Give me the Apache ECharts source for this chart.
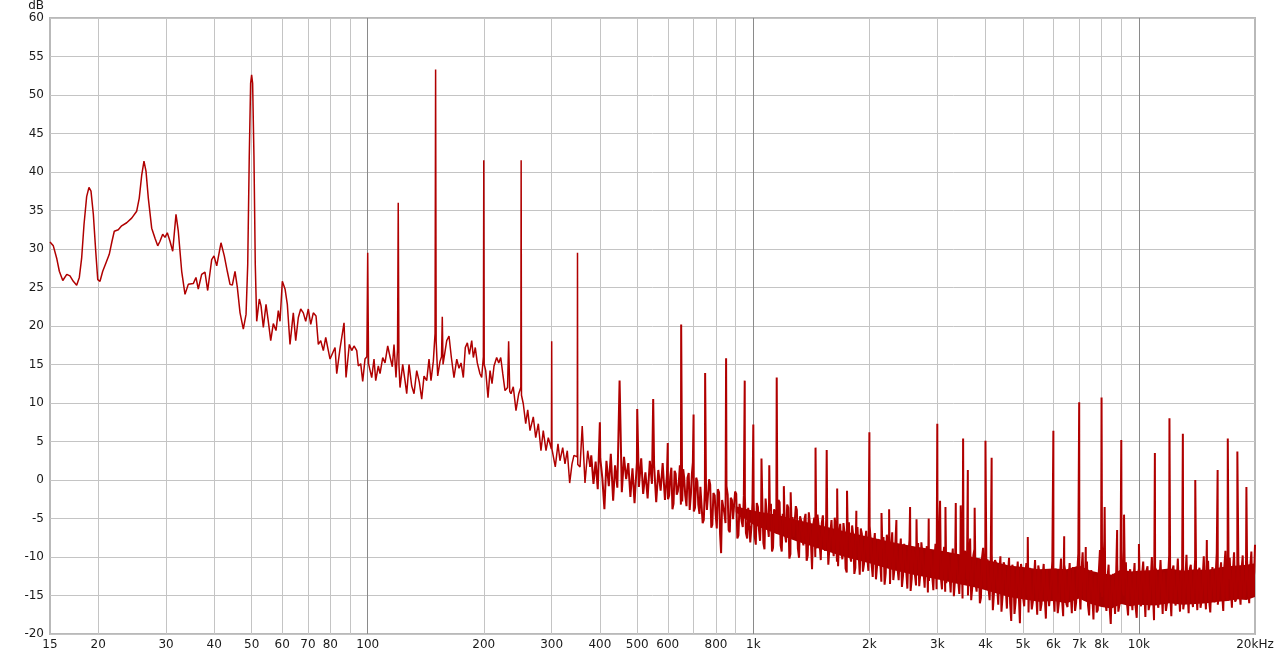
<!DOCTYPE html>
<html>
<head>
<meta charset="utf-8">
<script src="https://cdn.jsdelivr.net/npm/echarts@6/dist/echarts.min.js"></script>
<style>
html,body{margin:0;padding:0;background:#fff;}
#chart{width:1280px;height:657px;}
</style>
</head>
<body>
<div id="chart"></div>
<script>
// Spectrum below ~380 Hz: [frequency Hz, level dB]
const lowBand = [
[15.0,30.9],[15.3,30.4],[15.61,28.8],[15.86,27.1],[16.19,25.9],[16.58,26.7],[16.9,26.5],[17.24,25.8],[17.59,25.3],[17.87,26.3],[18.12,28.8],[18.38,33.2],[18.67,36.8],[18.93,38.0],[19.16,37.5],[19.43,34.5],[19.71,29.7],[19.95,26.0],[20.22,25.8],[20.55,27.1],[20.96,28.2],[21.37,29.3],[21.72,31.0],[22.02,32.3],[22.55,32.5],[23.01,33.0],[23.71,33.4],[24.43,34.0],[25.17,34.9],[25.56,36.6],[25.94,39.6],[26.29,41.4],[26.61,40.1],[26.98,36.6],[27.53,32.7],[28.08,31.4],[28.54,30.4],[28.93,31.0],[29.4,31.9],[29.81,31.5],[30.22,32.1],[30.71,31.0],[31.21,29.7],[31.83,34.5],[32.27,32.3],[32.93,27.1],[33.59,24.1],[34.25,25.4],[35.29,25.5],[35.86,26.3],[36.36,24.8],[37.1,26.7],[37.84,27.0],[38.46,24.6],[39.39,28.6],[39.94,29.1],[40.59,27.8],[41.64,30.8],[42.47,29.1],[43.24,27.1],[43.95,25.4],[44.56,25.3],[45.28,27.1],[45.91,25.0],[46.66,21.7],[47.58,19.6],[48.36,21.5],[48.85,28],[49.3,42],[49.7,51.5],[50.0,52.6],[50.3,51.5],[50.7,42],[51.1,28],[51.54,20.6],[52.35,23.5],[52.89,22.6],[53.62,19.8],[54.49,22.8],[55.24,20.6],[56.04,18.1],[56.91,20.3],[57.84,19.4],[58.64,22.0],[59.24,20.6],[60.06,25.8],[61.04,24.8],[61.88,22.8],[62.88,17.6],[64.13,21.7],[65.06,18.1],[66.08,21.1],[67.03,22.2],[68.08,21.7],[69.06,20.6],[70.14,22.2],[71.16,20.2],[72.27,21.7],[73.45,21.3],[74.46,17.6],[75.54,18.1],[76.72,16.8],[77.83,18.5],[79.05,16.8],[79.86,15.7],[82.28,17.2],[83.12,13.8],[84.77,17.1],[86.82,20.4],[87.86,13.3],[89.61,17.6],[90.9,16.8],[92.16,17.4],[93.66,16.8],[94.55,14.8],[95.91,15.1],[97.06,12.8],[98.4,15.7],[99.5,16],[100,29.5],[100.5,15.1],[102.42,13.3],[103.84,15.7],[104.9,12.9],[106.54,14.8],[107.63,13.8],[109.38,15.9],[110.89,15.2],[112.69,17.4],[114.25,16],[115.83,14.7],[117.01,17.6],[118.41,13.3],[119.5,17],[120,36],[120.5,15],[121.28,12],[123.25,15],[124.96,12.9],[126.23,11.2],[127.98,15],[130.06,12.2],[131.86,11.2],[134,14.2],[136.1,12.7],[138.06,10.5],[139.97,13.5],[142.24,12.9],[144.21,15.7],[145.94,12.9],[147.96,15.4],[149.5,19],[150,53.3],[150.5,18],[151.9,13.5],[154,15.4],[155.4,16],[156.1,21.2],[156.8,15],[158,14.8],[160.3,18.1],[162.5,18.7],[164.8,15.9],[167.4,13.3],[170.2,15.7],[172.5,14.5],[174.6,15.2],[177,13.3],[179.1,17.2],[181.3,17.8],[183.5,16.3],[186.1,18.1],[187.9,15.9],[190.1,17.2],[192.4,15.2],[195.5,13.8],[197.5,13.3],[199.5,16],[200,41.5],[200.5,15],[202.3,14.2],[205.1,10.7],[207.6,14.2],[210.1,12.5],[212.6,14.8],[216,15.9],[218.7,15.2],[221.3,15.9],[224,13.8],[227,11.6],[230.5,12],[232,18],[233.5,11.5],[235.3,11.2],[238.5,12.1],[242.4,9],[246.4,11.2],[249.5,12],[250,41.5],[250.5,11],[253.2,9.9],[256.9,7.3],[260,9.1],[263.6,6.4],[268.8,8.2],[272.7,5.5],[277,7.3],[281.4,3.8],[285.3,6.4],[290,3.8],[294,5.5],[299.5,4],[300,18],[300.5,4],[302.9,3.8],[306.5,1.7],[311.5,4.7],[315.2,2.5],[320.4,4.2],[324.8,2.1],[329.3,3.8],[334,-0.4],[338.7,2.1],[342.7,3.2],[349.5,3],[350,29.5],[350.5,2],[355.3,1.7],[360,7],[366,-0.4],[372,3.8],[377.1,1.7]
];

// Noise floor above ~380 Hz, outer peaks/troughs: [frequency Hz, level dB]
const noise = [
[380,3.2],[385,-0.5],[390,2.4],[395,-1.2],[401,2.8],[406,0.2],[411,-3.8],[416,2.5],[422,-0.8],[427,3.4],[433,-2.7],[438,1.9],[444,-1.0],[456,-1.6],[462,3.0],[468,0.1],[474,2.2],[480,-2.2],[486,1.5],[492,-3.0],[499,2.3],[505,-0.9],[512,2.8],[518,-1.8],[525,1.0],[532,-2.4],[539,2.5],[546,-0.5],[553,1.9],[560,-2.9],[567,1.3],[575,-1.4],[582,2.2],[590,-2.6],[597,0.6],[605,-2.0],[613,1.6],[621,-3.1],[629,0.8],[637,-1.5],[645,1.9],[654,-2.8],[662,0.2],[671,-3.4],[680,0.9],[689,-1.8],[697,2.3],[706,-3.6],[716,-0.2],[725,-4.4],[734,-0.8],[744,-5.2],[754,-1.4],[763,-4.0],[773,-0.6],[783,-5.8],[794,-2.0],[804,-6.3],[815,-1.6],[825,-9.5],[836,-2.4],[847,-5.6],[858,-1.9],[869,-6.8],[880,-2.6],[892,-5.0],[903,-1.8],[915,-7.2],[927,-3.0],[939,-6.1],[951,-2.2],[964,-7.6],[976,-3.4],[989,-6.0],[1002,-2.8],
[1015,-8.4],[1028,-3.5],[1041,-7.9],[1055,-2.6],[1069,-9.0],[1083,-4.2],[1097,-7.4],[1111,-3.1],[1125,-8.8],[1140,-4.6],[1155,-7.0],[1170,-2.9],[1185,-9.3],[1200,-5.0],[1216,-8.1],[1232,-3.6],[1248,-9.6],[1264,-4.8],[1281,-7.6],[1297,-3.9],[1314,-10.1],[1331,-5.3],[1349,-8.5],[1366,-4.4],[1384,-9.8],[1402,-5.6],[1420,-11.6],[1439,-4.9],[1457,-8.9],[1476,-5.8],[1496,-10.4],[1515,-4.6],[1535,-9.2],[1555,-6.0],[1575,-10.8],[1595,-5.2],[1616,-9.9],[1637,-6.4],[1659,-11.2],[1680,-5.7],[1702,-10.3],[1724,-6.8],[1747,-12.0],[1770,-5.5],[1793,-10.6],[1816,-7.2],[1839,-11.4],[1863,-6.1],[1888,-12.3],[1912,-7.0],[1937,-10.9],[1962,-6.6],[1988,-11.8],
[2014,-7.5],[2040,-12.6],[2066,-6.9],[2093,-11.3],[2121,-8.0],[2148,-13.2],[2176,-7.4],[2205,-12.1],[2233,-8.5],[2262,-13.5],[2292,-6.8],[2322,-11.7],[2352,-8.9],[2382,-13.0],[2413,-7.6],[2445,-12.4],[2477,-9.1],[2509,-14.1],[2541,-7.8],[2575,-12.8],[2608,-9.4],[2642,-13.7],[2676,-8.2],[2711,-12.2],[2746,-9.7],[2782,-14.0],[2818,-8.6],[2855,-13.1],[2892,-9.9],[2930,-14.3],[2968,-8.3],[3006,-12.9],
[3046,-9.2],[3085,-14.2],[3125,-8.7],[3166,-13.4],[3207,-10.1],[3249,-14.6],[3291,-8.9],[3334,-13.0],[3377,-9.8],[3421,-14.8],[3466,-8.1],[3511,-13.6],[3557,-9.5],[3603,-15.0],[3650,-7.6],[3697,-13.9],[3745,-9.0],[3794,-14.5],[3843,-10.2],[3893,-15.3],[3944,-8.8],[3995,-14.1],
[4047,-10.3],[4100,-15.6],[4153,-9.6],[4207,-14.8],[4262,-10.8],[4317,-16.2],[4373,-9.9],[4430,-15.1],[4488,-11.2],[4546,-16.7],[4605,-10.1],[4665,-18.3],[4726,-11.5],[4787,-15.9],[4850,-10.6],[4913,-18.6],[4977,-11.9],
[5041,-16.4],[5107,-10.8],[5173,-17.2],[5240,-11.6],[5309,-15.8],[5378,-10.4],[5448,-17.5],[5518,-12.0],[5590,-16.1],[5663,-10.9],[5737,-18.0],[5811,-11.8],[5887,-16.6],[5963,-10.5],[6041,-17.1],[6119,-11.3],[6199,-16.0],[6280,-10.2],[6361,-17.7],[6444,-11.9],[6528,-16.5],[6613,-10.8],[6699,-17.3],[6786,-11.4],[6874,-15.9],[6963,-9.6],[7054,-16.8],
[7146,-9.4],[7238,-15.7],[7333,-10.6],[7428,-17.6],[7524,-11.7],[7622,-18.1],[7721,-12.4],[7822,-16.9],[7924,-9.1],[8027,-15.2],[8131,-8.0],[8237,-17.0],[8344,-11.0],[8452,-18.7],[8562,-12.2],[8673,-17.4],[8786,-10.9],[8900,-16.2],[9016,-9.0],[9133,-15.0],[9252,-10.7],[9372,-17.6],[9494,-11.6],[9618,-16.9],[9743,-10.8],[9869,-17.9],[9998,-11.5],
[10128,-16.4],[10259,-10.6],[10393,-17.8],[10528,-11.2],[10665,-16.1],[10803,-10.0],[10944,-18.2],[11086,-11.7],[11230,-16.6],[11376,-10.4],[11524,-17.4],[11674,-11.9],[11826,-16.0],[11980,-9.8],[12135,-17.7],[12293,-11.1],[12453,-16.3],[12615,-10.2],[12779,-17.1],[12945,-11.5],[13113,-15.8],[13284,-9.7],[13456,-17.3],[13631,-11.0],[13808,-16.5],[13988,-10.3],[14170,-16.9],[14354,-11.4],[14541,-15.6],[14730,-9.9],[14921,-16.8],[15115,-10.5],[15312,-17.2],[15511,-11.3],[15713,-15.9],[15917,-9.5],[16124,-16.4],[16333,-10.7],[16546,-17.0],[16761,-9.2],[16979,-15.7],[17199,-10.1],[17423,-16.6],[17649,-9.4],[17879,-15.5],[18111,-10.6],[18347,-16.2],[18585,-9.8],[18827,-15.1],[19072,-10.4],[19320,-16.0],[19571,-9.3],[19825,-15.2],[20000,-8.4]
];

// Noise floor, in-between bins: [frequency Hz, level dB]
const noiseMid = [
[601,-2.5],[609,0.4],[617,-3.8],[625,1.2],[633,-1.9],[641,-0.2],[649,-3.2],[658,1.4],[666,-2.0],[675,0.3],[684,-3.9],[693,0.8],
[701,-4.1],[711,0.3],[720,-3.2],[729,-0.9],[739,-5.6],[749,-1.0],[758,-3.9],[768,0.1],[778,-6.2],[788,-1.7],[799,-4.6],[809,-1.2],[820,-7.0],[830,-2.6],[841,-4.3],[852,-0.8],[863,-6.5],[874,-2.3],[886,-5.1],[897,-1.5],[909,-7.6],[921,-3.1],[933,-5.4],[945,-2.0],[957,-6.9],[970,-3.6],[982,-8.1],[995,-2.9],
[1008,-7.3],[1021,-3.0],[1034,-6.4],[1048,-4.1],[1062,-8.2],[1076,-2.4],[1090,-6.0],[1104,-4.0],[1118,-9.3],[1132,-3.8],[1147,-6.9],[1162,-2.6],[1177,-8.5],[1192,-4.4],[1208,-7.1],[1224,-3.2],[1240,-10.2],[1256,-5.5],[1272,-7.4],[1289,-3.4],[1305,-8.9],[1322,-4.7],[1340,-7.7],[1357,-5.1],[1375,-10.5],[1393,-4.2],[1411,-8.1],[1429,-6.0],[1448,-10.0],[1467,-4.5],[1486,-8.3],[1505,-5.6],
[1525,-8.7],[1545,-5.2],[1565,-11.0],[1585,-6.7],[1605,-8.4],[1626,-4.9],[1648,-10.6],[1669,-7.0],[1691,-9.1],[1713,-5.6],[1735,-11.5],[1758,-7.3],[1781,-9.8],[1804,-5.9],[1828,-12.2],[1851,-7.9],[1876,-9.6],[1900,-6.3],[1924,-11.9],[1950,-8.0],[1975,-10.1],[2003,-6.0],
[2027,-11.0],[2053,-8.4],[2080,-12.9],[2107,-7.7],[2134,-10.8],[2162,-8.9],[2190,-13.6],[2219,-7.1],[2248,-11.2],[2277,-9.0],[2307,-13.0],[2337,-8.0],[2367,-11.6],[2398,-9.4],[2429,-13.9],[2461,-8.3],[2493,-11.9],[2525,-9.6],[2558,-14.4],[2591,-8.7],[2625,-12.3],[2659,-9.9],[2693,-13.8],[2728,-8.1],[2764,-12.0],[2800,-10.2],[2836,-14.6],[2873,-9.0],[2911,-12.5],[2949,-10.4],[2987,-14.2],
[3026,-9.0],[3065,-12.7],[3105,-10.0],[3145,-14.5],[3186,-9.4],[3228,-12.4],[3270,-10.6],[3312,-15.1],[3355,-9.6],[3399,-13.1],[3443,-10.9],[3488,-15.4],[3534,-9.2],[3580,-12.9],[3626,-10.3],[3673,-15.6],[3721,-9.8],[3769,-13.4],[3818,-11.2],[3868,-16.0],[3918,-10.1],[3969,-13.8],
[4021,-10.9],[4073,-14.0],[4126,-11.5],[4180,-16.9],[4234,-10.4],[4289,-13.8],[4345,-12.0],[4401,-17.1],[4459,-10.7],[4517,-14.3],[4575,-12.2],[4635,-16.0],[4695,-11.0],[4756,-17.4],[4818,-12.6],[4881,-14.9],[4945,-10.9],[5009,-15.3],
[5074,-12.2],[5140,-15.0],[5206,-11.4],[5274,-16.8],[5343,-12.9],[5413,-14.6],[5483,-11.1],[5554,-17.0],[5626,-12.5],[5700,-15.2],[5774,-11.7],[5849,-16.4],[5925,-13.0],[6002,-14.8],[6080,-11.5],[6159,-17.3],[6239,-12.4],[6320,-15.5],[6402,-11.0],[6486,-16.1],[6570,-12.8],[6656,-14.9],[6742,-11.3],[6830,-17.0],[6918,-12.1],[7008,-14.4],[7100,-11.6],
[7192,-14.9],[7285,-11.2],[7380,-16.3],[7476,-12.6],[7573,-15.1],[7671,-12.9],[7771,-17.2],[7873,-11.8],[7975,-14.6],[8079,-12.0],[8184,-15.9],[8290,-12.7],[8398,-16.6],[8507,-13.4],[8617,-15.0],[8729,-12.3],[8843,-17.1],[8958,-11.6],[9074,-14.2],[9192,-12.8],[9312,-16.0],[9433,-12.1],[9556,-14.9],[9680,-13.0],[9806,-16.5],[9933,-12.4],
[10063,-15.2],[10193,-12.3],[10326,-14.4],[10460,-11.8],[10596,-16.9],[10734,-12.9],[10873,-14.7],[11015,-11.4],[11158,-15.8],[11303,-13.1],[11450,-14.2],[11599,-12.0],[11750,-17.0],[11903,-12.6],[12057,-14.9],[12214,-11.7],[12373,-15.6],[12534,-13.0],[12697,-14.3],[12862,-12.2],[13029,-16.8],[13198,-12.8],[13370,-14.6],[13543,-11.6],[13719,-15.3],[13898,-13.2],[14079,-14.0],[14262,-12.1],[14447,-16.6],[14635,-12.7],[14825,-14.5],[15018,-11.5],[15213,-15.7],[15411,-13.0],[15612,-14.1],[15815,-12.3],[16020,-16.2],[16228,-12.4],[16439,-14.8],[16653,-11.3],[16870,-15.1],[17089,-12.9],[17311,-13.9],[17536,-11.8],[17764,-15.8],[17994,-12.0],[18228,-14.4],[18465,-11.5],[18705,-15.4],[18949,-12.6],[19195,-13.8],[19445,-11.2],[19697,-15.0],[19912,-11.9]
];

// Harmonic / spurious tones above ~380 Hz: [frequency Hz, peak dB]
const spikes = [
[400,7.5],[450,12.9],[500,9.2],[550,10.5],[600,4.8],[650,20.2],[700,8.5],[750,13.9],[850,15.8],[950,12.9],[1000,7.2],[1050,2.8],[1100,1.9],[1150,13.3],[1200,-0.8],[1250,-1.6],[1450,4.2],[1550,3.9],[1650,-1.1],[1750,-1.4],[1850,-4.0],[2000,6.2],[2150,-4.3],[2250,-3.8],[2350,-5.2],[2550,-3.5],[2650,-5.1],[2850,-5.0],[3000,7.3],[3050,-2.7],[3150,-3.5],[3350,-3.0],[3450,-3.3],[3500,5.4],[3600,1.3],[3750,-3.6],[4000,5.1],[4150,2.9],[5150,-7.4],[6000,6.4],[6400,-7.3],[7000,10.1],[7280,-8.7],[8000,10.7],[8150,-3.5],[8780,-6.5],[9000,5.2],[9150,-4.5],[10000,-8.3],[11000,3.5],[12000,8.0],[13000,6.0],[14000,0.0],[15000,-7.8],[16000,1.3],[17000,5.4],[18000,3.7],[19000,-0.9]
];

// Solid centre of the noise floor
const bandFreq = [900, 1000, 1150, 1300, 1500, 1700, 2000, 2300, 2600, 3000, 3400, 3800, 4200, 4600, 5000, 5500, 6000, 6500, 7000, 7500, 8000, 8500, 9000, 9500, 10000, 11000, 12000, 13000, 14000, 15000, 16000, 17000, 18000, 19000, 20000];
const coreHigh = [-3.4, -4.0, -4.5, -5.2, -5.9, -6.6, -7.4, -8.1, -8.6, -9.1, -9.6, -10.1, -10.6, -11.1, -11.3, -11.6, -11.5, -11.6, -11.1, -11.8, -12.1, -12.3, -11.6, -11.9, -11.8, -11.7, -11.5, -11.8, -11.6, -11.7, -11.4, -11.2, -11.1, -11.0, -10.8];
const coreLow  = [-4.2, -5.8, -7.0, -8.0, -9.0, -9.9, -10.8, -11.7, -12.3, -12.9, -13.5, -14.0, -14.6, -15.2, -15.5, -15.8, -15.7, -16.0, -15.4, -16.1, -16.5, -16.7, -16.1, -16.4, -16.2, -16.3, -16.0, -16.2, -16.1, -16.0, -15.8, -15.7, -15.5, -15.6, -15.2];

// Axis ticks
const xLabelValues = [15,20,30,40,50,60,70,80,100,200,300,400,500,600,800,1000,2000,3000,4000,5000,6000,7000,8000,10000,20000];
const xLabelTexts = ['15','20','30','40','50','60','70','80','100','200','300','400','500','600','800','1k','2k','3k','4k','5k','6k','7k','8k','10k','20kHz'];
const gridMinor = [20,30,40,50,60,70,80,90,200,300,400,500,600,700,800,900,2000,3000,4000,5000,6000,7000,8000,9000];
const gridMajor = [100,1000,10000];
const yMin = -20, yMax = 60, yStep = 5;

const lowTrace = lowBand.slice();
const highTrace = [lowBand[lowBand.length - 1]].concat(noise, noiseMid, spikes).sort((a, b) => a[0] - b[0]);
const bandData = bandFreq.map((f, i) => [f, coreHigh[i], coreLow[i]]);

const labelMap = new Map(xLabelValues.map((v, i) => [v, xLabelTexts[i]]));
const lineItems = [];
gridMinor.forEach(v => lineItems.push({
  xAxis: v, lineStyle: {color: '#c4c4c4'},
  label: labelMap.has(v) ? {show: true, formatter: labelMap.get(v)} : {show: false}
}));
gridMajor.forEach(v => lineItems.push({
  xAxis: v, lineStyle: {color: '#8a8a8a'},
  label: {show: true, formatter: labelMap.get(v)}
}));
[15, 20000].forEach(v => lineItems.push({
  xAxis: v, lineStyle: {color: 'rgba(0,0,0,0)'},
  label: {show: true, formatter: labelMap.get(v)}
}));

const chart = echarts.init(document.getElementById('chart'), null, {renderer: 'canvas'});
const font = 'DejaVu Sans';
chart.setOption({
  animation: false,
  backgroundColor: '#ffffff',
  grid: {left: 50, right: 25, top: 16, bottom: 23, show: true, borderColor: '#b9b9b9', borderWidth: 2, backgroundColor: 'rgba(0,0,0,0)'},
  xAxis: {
    type: 'log', logBase: 10, min: 15, max: 20000,
    axisLine: {show: false}, axisTick: {show: false}, axisLabel: {show: false}, splitLine: {show: false}
  },
  yAxis: {
    type: 'value', min: yMin, max: yMax, interval: yStep,
    name: 'dB', nameLocation: 'end', nameGap: 4,
    nameTextStyle: {align: 'right', verticalAlign: 'bottom', padding: [0, 6, 0, 0], fontFamily: font, fontSize: 12, color: '#1a1a1a'},
    axisLine: {show: false}, axisTick: {show: false},
    axisLabel: {fontFamily: font, fontSize: 12, color: '#1a1a1a', margin: 6},
    splitLine: {show: true, lineStyle: {color: '#c4c4c4', width: 1}}
  },
  series: [
    {
      name: 'grid', type: 'line', data: [], z: 1, clip: false, silent: true,
      markLine: {
        z: 1,
        silent: true, symbol: ['none', 'none'], animation: false,
        lineStyle: {type: 'solid', width: 1},
        label: {position: 'start', distance: 5, color: '#1a1a1a', fontFamily: font, fontSize: 12},
        emphasis: {disabled: true},
        data: lineItems
      }
    },
    {
      name: 'band', type: 'custom', silent: true, z: 3,
      encode: {x: 0, y: [1, 2]},
      data: bandData,
      renderItem: function (params, api) {
        if (params.dataIndex !== 0) return null;
        const top = bandData.map(d => api.coord([d[0], d[1]]));
        const bottom = bandData.map(d => api.coord([d[0], d[2]])).reverse();
        return {type: 'polygon', shape: {points: top.concat(bottom)}, style: {fill: '#a80000'}};
      }
    },
    {
      name: 'spectrum', type: 'line', symbol: 'none', z: 6,
      lineStyle: {color: '#b00000', width: 1.5},
      data: lowTrace
    },
    {
      name: 'spectrum (noise floor)', type: 'line', symbol: 'none', z: 6,
      lineStyle: {color: '#b00000', width: 2},
      data: highTrace
    }
  ]
});
</script>
</body>
</html>
